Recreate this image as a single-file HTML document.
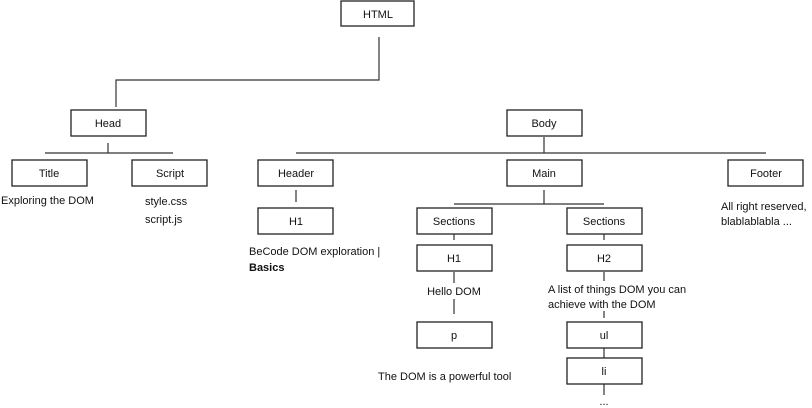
<!DOCTYPE html>
<html><head><meta charset="utf-8"><style>
html,body{margin:0;padding:0;background:#fff;}
svg{display:block;}
text{font-family:"Liberation Sans",sans-serif;font-size:11px;fill:#111;}
.b{fill:#fff;stroke:#222;stroke-width:1.3;}
.l{stroke:#333;stroke-width:1.2;fill:none;}
</style></head><body>
<svg width="812" height="408" viewBox="0 0 812 408" xmlns="http://www.w3.org/2000/svg">
<!-- connectors -->
<path class="l" d="M379 37V80H116V107"/>
<path class="l" d="M108 143V153M45 153H173"/>
<path class="l" d="M544 137V153M296 153H766"/>
<path class="l" d="M296 190V202"/>
<path class="l" d="M544 190V204M454 204H604"/>
<path class="l" d="M454 234V240M454 272V283M454 299V314"/>
<path class="l" d="M604 234V240M604 272V281M604 311V318M604 348V358M604 384V395"/>
<!-- boxes -->
<rect class="b" x="341" y="1" width="73" height="25"/>
<rect class="b" x="71" y="110" width="75" height="26"/>
<rect class="b" x="507" y="110" width="75" height="26"/>
<rect class="b" x="12" y="160" width="75" height="26"/>
<rect class="b" x="132" y="160" width="75" height="26"/>
<rect class="b" x="258" y="160" width="75" height="26"/>
<rect class="b" x="507" y="160" width="75" height="26"/>
<rect class="b" x="728" y="160" width="75" height="26"/>
<rect class="b" x="258" y="208" width="75" height="26"/>
<rect class="b" x="417" y="208" width="75" height="26"/>
<rect class="b" x="567" y="208" width="75" height="26"/>
<rect class="b" x="417" y="245" width="75" height="26"/>
<rect class="b" x="567" y="245" width="75" height="26"/>
<rect class="b" x="417" y="322" width="75" height="26"/>
<rect class="b" x="567" y="322" width="75" height="26"/>
<rect class="b" x="567" y="358" width="75" height="26"/>
<!-- labels -->
<g text-anchor="middle">
<text x="378" y="18">HTML</text>
<text x="108" y="127">Head</text>
<text x="544" y="127">Body</text>
<text x="49" y="177">Title</text>
<text x="170" y="177">Script</text>
<text x="296" y="177">Header</text>
<text x="544" y="177">Main</text>
<text x="766" y="177">Footer</text>
<text x="296" y="225">H1</text>
<text x="454" y="225">Sections</text>
<text x="604" y="225">Sections</text>
<text x="454" y="262">H1</text>
<text x="604" y="262">H2</text>
<text x="454" y="339">p</text>
<text x="604" y="339">ul</text>
<text x="604" y="375">li</text>
<text x="454" y="295">Hello DOM</text>
<text x="604" y="405">...</text>
</g>
<text x="1" y="204">Exploring the DOM</text>
<text x="145" y="205">style.css</text>
<text x="145" y="223">script.js</text>
<text x="249" y="255">BeCode DOM exploration |</text>
<text x="249" y="271" font-weight="bold">Basics</text>
<text x="548" y="293">A list of things DOM you can</text>
<text x="548" y="308">achieve with the DOM</text>
<text x="378" y="380">The DOM is a powerful tool</text>
<text x="721" y="210">All right reserved,</text>
<text x="721" y="225">blablablabla ...</text>
</svg>
</body></html>
